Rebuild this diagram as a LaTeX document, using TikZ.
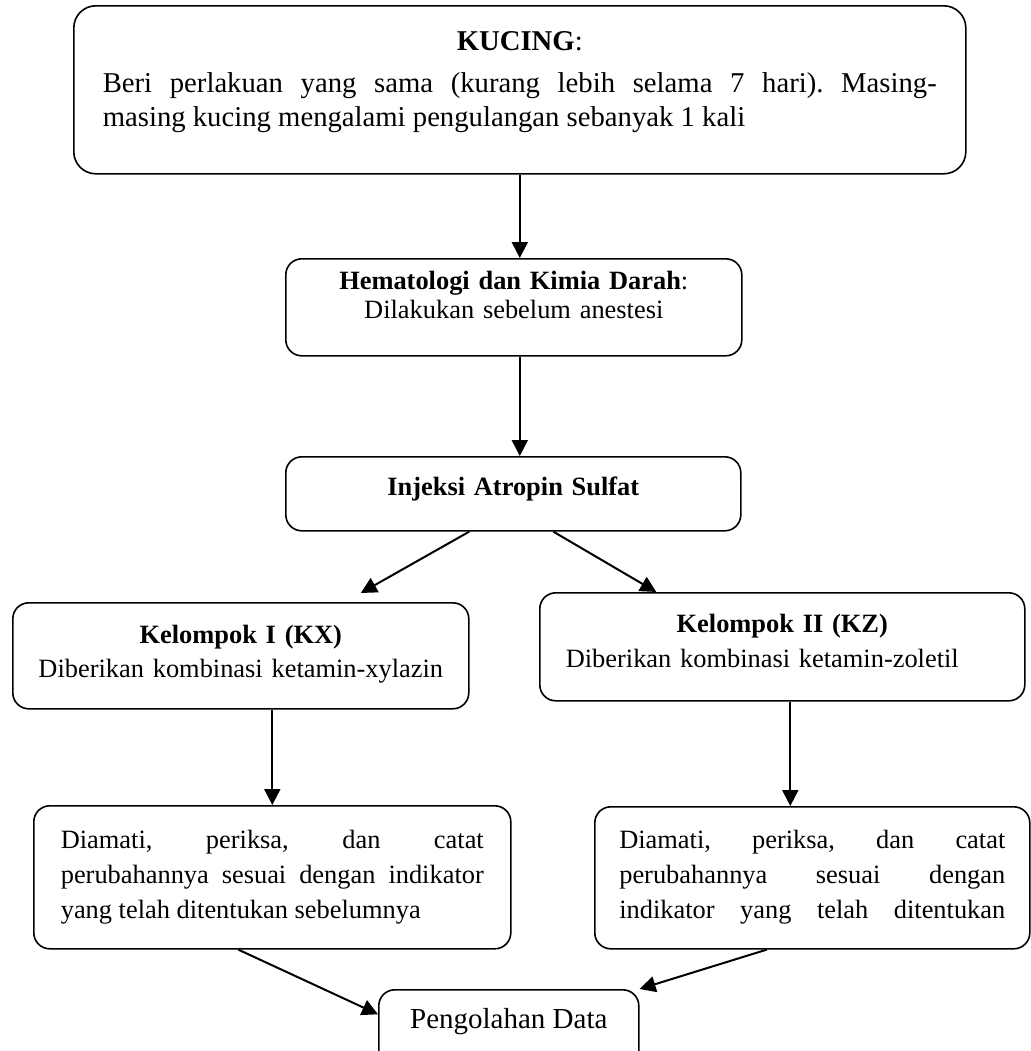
\documentclass[tikz,border=0pt]{standalone}
\usepackage{fontspec}
\setmainfont{Liberation Serif}
\usetikzlibrary{positioning}
\usetikzlibrary{arrows.meta}
\frenchspacing
\tikzstyle{process} = [rectangle, rounded corners=8pt, draw=black, line width=0.8pt, anchor=north west, inner xsep=4pt, inner ysep=0pt, font=\fontsize{13.2}{17}\selectfont]
\tikzstyle{arrow} = [line width=1pt,->,>={Triangle[length=8pt,width=8pt]}]

\begin{document}
\begin{tikzpicture}[x=0.5pt,y=-0.5pt]
\useasboundingbox (0,0) rectangle (1030,1051);
\node (kucing) [process, rounded corners=11pt, minimum width=446pt, text width=417pt, align=justify, text height=22.5pt, text depth=61.5pt, font=\fontsize{14.35}{17}\selectfont] at (73,5) {\makebox[\linewidth]{\textbf{KUCING}:}\\[4pt]Beri perlakuan yang sama (kurang lebih selama 7 hari). Masing-\linebreak masing kucing mengalami pengulangan sebanyak 1 kali};
\node (hema) [process, minimum width=228pt, text width=210pt, align=center, text height=15.5pt, text depth=33pt, font=\fontsize{13.2}{14.5}\selectfont] at (285,258) {\textbf{Hematologi dan Kimia Darah}:\\Dilakukan sebelum anestesi};
\node (injeksi) [process, minimum width=227.5pt, text width=210pt, align=center, text height=19.5pt, text depth=17.5pt] at (285,456) {\textbf{Injeksi Atropin Sulfat}};
\node (kx) [process, minimum width=228pt, text width=210pt, align=center, text height=20.5pt, text depth=32.5pt] at (12,602) {\textbf{Kelompok I (KX)}\\Diberikan kombinasi ketamin-xylazin};
\node (kz) [process, minimum width=242.5pt, text width=216.5pt, align=left, text height=20pt, text depth=34pt, font=\fontsize{13.2}{17.5}\selectfont] at (539,592) {\makebox[\linewidth]{\textbf{Kelompok II (KZ)}}\\Diberikan kombinasi ketamin-zoletil};
\node (d1) [process, minimum width=238.5pt, text width=211.5pt, align=justify, text height=21.5pt, text depth=50pt, font=\fontsize{13.2}{17.5}\selectfont] at (33,805) {Diamati, periksa, dan catat\linebreak perubahannya sesuai dengan indikator\linebreak yang telah ditentukan sebelumnya};
\node (d2) [process, minimum width=217.5pt, text width=193pt, align=justify, text height=21pt, text depth=50pt, font=\fontsize{13.2}{17.5}\selectfont] at (594,806) {Diamati, periksa, dan catat\linebreak perubahannya sesuai dengan\linebreak\makebox[\linewidth][s]{indikator yang telah ditentukan}};
\node (peng) [process, minimum width=130pt, text height=19.5pt, text depth=20pt, font=\fontsize{14.5}{17}\selectfont] at (378,989) {Pengolahan Data};
\draw [arrow] (kucing.south) -- (kucing.south |- hema.north);
\draw [arrow] (kucing.south |- hema.south) -- (kucing.south |- injeksi.north);
\draw [arrow] ([xshift=-22pt]injeksi.south) -- ([xshift=60pt,yshift=4.5pt]kx.north);
\draw [arrow] ([xshift=20pt]injeksi.south) -- ([xshift=-63pt]kz.north);
\draw [arrow] (kx.south -| d1.north) -- (d1.north);
\draw [arrow] ([xshift=4pt]kz.south) -- ([xshift=4pt]kz.south |- d2.north);
\draw [arrow] ([xshift=-17pt]d1.south) -- ([yshift=7.5pt]peng.west);
\draw [arrow] ([xshift=-22.75pt]d2.south) -- (peng.north east);
\end{tikzpicture}
\end{document}
